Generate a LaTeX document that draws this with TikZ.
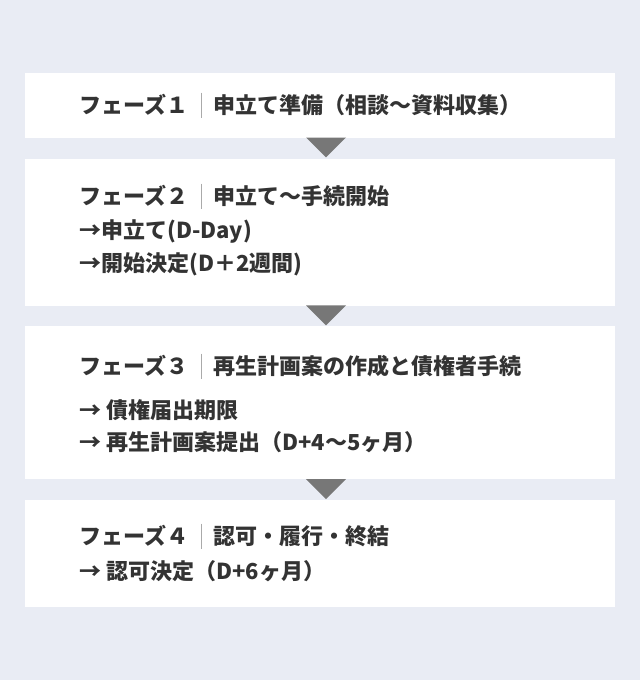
\documentclass[tikz,border=0pt]{standalone}
\usepackage{fontspec}
\setmainfont{Noto Sans CJK JP}
\definecolor{bg}{HTML}{E9ECF4}
\definecolor{txt}{HTML}{333333}
\definecolor{tric}{HTML}{777777}
\definecolor{sepc}{HTML}{AAAAAA}
\begin{document}
\begin{tikzpicture}[x=1pt,y=-1pt,
  box/.style={fill=white,draw=none,inner sep=0pt,anchor=north west},
  ttl/.style={anchor=west,inner sep=0pt,font=\bfseries\fontsize{22}{26}\selectfont,text=txt},
  body/.style={anchor=west,inner sep=0pt,font=\bfseries\fontsize{22}{26}\selectfont,text=txt},
  sepline/.style={draw=sepc,line width=1pt},
  tri/.style={fill=tric,draw=none}]
\fill[bg] (0,0) rectangle (640,680);
\useasboundingbox (0,0) rectangle (640,680);
% boxes
\node[box,minimum width=590pt,minimum height=64.8pt] (b1) at (25,72.7) {};
\node[box,minimum width=590pt,minimum height=146.6pt] (b2) at (25,158.7) {};
\node[box,minimum width=590pt,minimum height=153pt] (b3) at (25,326) {};
\node[box,minimum width=590pt,minimum height=107.4pt] (b4) at (25,499.3) {};
% triangles
\fill[tri] (306,137.5) -- (346,137.5) -- (326,157.3) -- cycle;
\fill[tri] (306,305.3) -- (346,305.3) -- (326,325.3) -- cycle;
\fill[tri] (306,479) -- (346,479) -- (326,499) -- cycle;
% phase 1
\node[ttl] (p1) at (79,105) {フェーズ１};
\draw[sepline] (201.5,92.5) -- (201.5,117.5);
\node[ttl] (t1) at (213,105) {申立て準備（相談～資料収集）};
% phase 2
\node[ttl] (p2) at (79,196) {フェーズ２};
\draw[sepline] (201.5,183.5) -- (201.5,208.5);
\node[ttl] (t2) at (213,196) {申立て～手続開始};
\node[body] (l21) at (79,232) {→申立て(D-Day)};
\node[body] (l22) at (79,264) {→開始決定(D＋2週間)};
% phase 3
\node[ttl] (p3) at (79,366) {フェーズ３};
\draw[sepline] (201.5,353.5) -- (201.5,378.5);
\node[ttl] (t3) at (213,366) {再生計画案の作成と債権者手続};
\node[body] (l31) at (79,410) {→ 債権届出期限};
\node[body] (l32) at (79,442) {→ 再生計画案提出（D+4～5ヶ月）};
% phase 4
\node[ttl] (p4) at (79,536) {フェーズ４};
\draw[sepline] (201.5,523.5) -- (201.5,548.5);
\node[ttl] (t4) at (213,536) {認可・履行・終結};
\node[body] (l41) at (79,571) {→ 認可決定（D+6ヶ月）};
\end{tikzpicture}
\end{document}
